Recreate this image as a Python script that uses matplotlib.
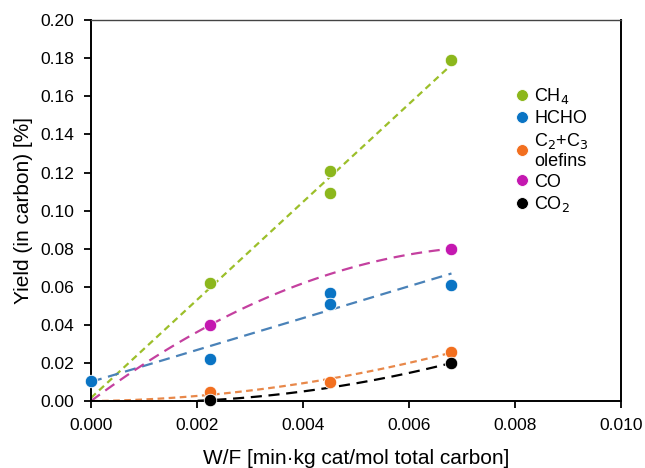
import matplotlib
matplotlib.use("Agg")
import matplotlib.pyplot as plt
import numpy as np

plt.rcParams['font.family'] = ['Liberation Sans', 'DejaVu Sans']

# measured points (W/F, yield)
ch4_x = [0.00225, 0.0045, 0.0045, 0.0068]
ch4_y = [0.062, 0.121, 0.109, 0.179]
hcho_x = [0.0, 0.00225, 0.0045, 0.0045, 0.0068]
hcho_y = [0.0105, 0.022, 0.057, 0.051, 0.061]
olef_x = [0.00225, 0.0045, 0.0068]
olef_y = [0.005, 0.010, 0.026]
co_x = [0.00225, 0.0068]
co_y = [0.040, 0.080]
co2_x = [0.00225, 0.0068]
co2_y = [0.0005, 0.020]

labels = ['CH$_4$', 'HCHO', 'C$_2$+C$_3$\nolefins', 'CO', 'CO$_2$']
colors = ['#8cb71c', '#0a74c4', '#f26f1f', '#c418b0', '#000000']
line_colors = ['#9cbf2a', '#4a82b8', '#e8884a', '#c4409f', '#000000']


def fit_curve(x, y, deg, origin):
    # least-squares polynomial, optionally forced through the origin
    x = np.asarray(x)
    y = np.asarray(y)
    start = 1 if origin else 0
    A = np.column_stack([x ** k for k in range(start, deg + 1)])
    c, *_ = np.linalg.lstsq(A, y, rcond=None)
    xs = np.linspace(0, max(x), 100)
    ys = sum(ci * xs ** k for ci, k in zip(c, range(start, deg + 1)))
    return xs, ys


fig = plt.figure(figsize=(6.45, 4.68), dpi=100)
ax = fig.add_axes([0.141, 0.143, 0.822, 0.814])

series = [(ch4_x, ch4_y, 1, False, (0, (3, 2))),
          (hcho_x, hcho_y, 1, False, (0, (5, 3))),
          (olef_x, olef_y, 2, True, (0, (3, 2))),
          (co_x, co_y, 2, True, (0, (5, 3))),
          (co2_x, co2_y, 2, True, (0, (5, 3)))]

# trend lines first, then points on top
for (x, y, deg, origin, ls), lc in zip(series, line_colors):
    xs, ys = fit_curve(x, y, deg, origin)
    ax.plot(xs, ys, color=lc, linestyle=ls, linewidth=1.6, zorder=2)

for (x, y, deg, origin, ls), c, lab in zip(series, colors, labels):
    ax.plot(x, y, 'o', color=c, markersize=9, markeredgecolor='white',
            markeredgewidth=0.6, label=lab, zorder=3, clip_on=False)

ax.set_xlim(0, 0.010)
ax.set_ylim(0, 0.20)
ax.set_xticks(np.arange(0, 0.0101, 0.002))
ax.set_yticks(np.arange(0, 0.201, 0.02))
ax.xaxis.set_major_formatter(matplotlib.ticker.FormatStrFormatter('%.3f'))
ax.yaxis.set_major_formatter(matplotlib.ticker.FormatStrFormatter('%.2f'))
ax.tick_params(direction='out', length=5, width=1.3, labelsize=12.5, pad=7)

ax.set_xlabel('W/F [min\u00b7kg cat/mol total carbon]', fontsize=15, labelpad=12)
ax.set_ylabel('Yield (in carbon) [%]', fontsize=15, labelpad=5)

for s in ['left', 'bottom', 'right']:
    ax.spines[s].set_linewidth(1.4)
ax.spines['top'].set_linewidth(1.0)
ax.spines['top'].set_color('#444444')

ax.legend(loc='upper left', bbox_to_anchor=(0.775, 0.85), frameon=False,
          fontsize=13, handletextpad=0.1, handlelength=1.2,
          labelspacing=0.2, markerscale=0.95, borderpad=0)

fig.savefig('out.png', dpi=100)
